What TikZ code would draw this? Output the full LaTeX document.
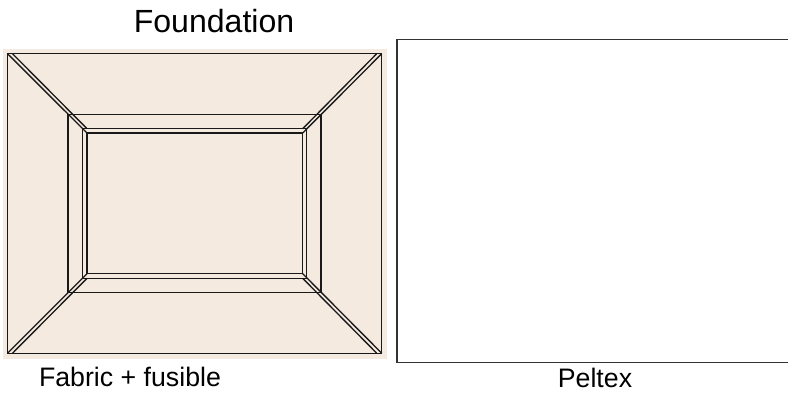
\documentclass[tikz,border=0pt]{standalone}
\usepackage{fontspec}
\setmainfont{Liberation Sans}
\usepackage{xcolor}
\definecolor{fabric}{HTML}{F4EADF}
\begin{document}
\begin{tikzpicture}[
  x=0.025cm, y=-0.025cm,
  seam/.style={draw=black!90, line width=0.95pt},
  edge/.style={draw=black!80, line width=1.1pt},
  lab/.style={font=\fontsize{19}{22}\selectfont, inner sep=0pt, anchor=base},
  title/.style={font=\fontsize{22.8}{26}\selectfont, inner sep=0pt, anchor=base}
]
\useasboundingbox (0,0) rectangle (788,394);
\fill[fabric] (3,49) rectangle (387,359);

% foundation
\draw[seam] (7.5,53.7) rectangle (381.7,353.2);
\draw[seam] (68,114.3) rectangle (321,292.7);
\draw[seam] (82.5,128.7) rectangle (306.7,278.3);
\draw[seam] (87,133) rectangle (302.7,273.7);

% corner seams
\draw[seam] (7.5,53.7) -- (87,133);
\draw[seam] (12.5,53.7) -- (87,128.7);
\draw[seam] (381.7,53.7) -- (302.7,133);
\draw[seam] (376.7,53.7) -- (302.7,128.7);
\draw[seam] (7.5,353.2) -- (87,273.7);
\draw[seam] (12.5,353.2) -- (87,278.3);
\draw[seam] (381.7,353.2) -- (302.7,273.7);
\draw[seam] (376.7,353.2) -- (302.7,278.3);

% peltex
\draw[edge] (788,39.7) -- (397,39.7) -- (397,362.7) -- (788,362.7);

\node[title] (foundation) at (214,33) {Foundation};
\node[lab] (fabriclab) at (130,386) {Fabric + fusible};
\node[lab] (peltexlab) at (595,387) {Peltex};
\end{tikzpicture}
\end{document}
